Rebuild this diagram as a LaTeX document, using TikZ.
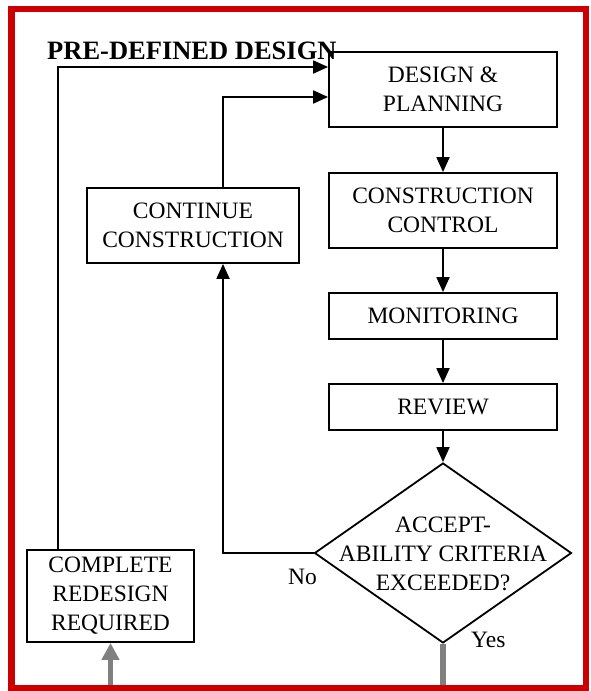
\documentclass[tikz,border=0pt]{standalone}
\usepackage{fontspec}
\setmainfont{Liberation Serif}
\usetikzlibrary{arrows.meta,shapes.geometric}
\definecolor{framered}{RGB}{204,0,0}
\definecolor{flowgray}{RGB}{128,128,128}
\begin{document}
\begin{tikzpicture}[x=1pt,y=-1pt,
  txt/.style={inner sep=0pt,align=center,font=\fontsize{23.5}{29}\selectfont},
  box/.style={txt,draw,line width=1.8pt},
  bigbox/.style={box,minimum width=228pt,minimum height=75pt},
  smallbox/.style={box,minimum width=228pt,minimum height=46pt},
  conn/.style={line width=1.8pt,-{Triangle[length=15pt,width=13pt]}},
  grayline/.style={flowgray,line width=6pt},
  grayarrow/.style={flowgray,line width=5pt,-{Triangle[length=17pt,width=17pt]}},
  frame/.style={framered,line width=6.5pt}]
\useasboundingbox (0,0) rectangle (590,691);

\node[bigbox] (design) at (443,89.5) {DESIGN \&\\PLANNING};
\node[bigbox] (control) at (443,210.5) {CONSTRUCTION\\CONTROL};
\node[smallbox] (monitor) at (443,316) {MONITORING};
\node[smallbox] (review) at (443,407) {REVIEW};
\node[draw,diamond,line width=1.8pt,minimum width=257pt,minimum height=180pt,inner sep=0pt] (decision) at (443,553) {};
\node[txt] (dectext) at (443,553.5) {ACCEPT-\\ABILITY CRITERIA\\EXCEEDED?};
\node[box,minimum width=212pt,minimum height=75pt] (continue) at (193,225.5) {CONTINUE\\CONSTRUCTION};
\node[box,minimum width=167pt,minimum height=92pt] (redesign) at (110.5,596) {COMPLETE\\REDESIGN\\REQUIRED};

\node[txt,anchor=base west] (no) at (288,584) {No};
\node[txt,anchor=base west] (yes) at (471,647) {Yes};

\draw[conn] (design) -- (control);
\draw[conn] (control) -- (monitor);
\draw[conn] (monitor) -- (review);
\draw[conn] (review) -- (decision.north);
\draw[conn] (decision.west) -| ([xshift=30pt]continue.south);
\draw[conn] ([xshift=30pt]continue.north) |- ([yshift=-7.5pt]design.west);
\draw[conn] ([xshift=-52.5pt]redesign.north) |- ([yshift=22.5pt]design.west);

\coordinate (grayin) at (110.5,691);
\coordinate (grayout) at (443,691);
\draw[grayarrow] (grayin) -- (redesign.south);
\draw[grayline] (decision.south) -- (grayout);

\draw[frame] (11.5,9) rectangle (586,688);

\node[inner sep=0pt,anchor=base west,font=\bfseries\fontsize{26.5}{32}\selectfont] (title) at (47,59) {PRE-DEFINED DESIGN};
\end{tikzpicture}
\end{document}
